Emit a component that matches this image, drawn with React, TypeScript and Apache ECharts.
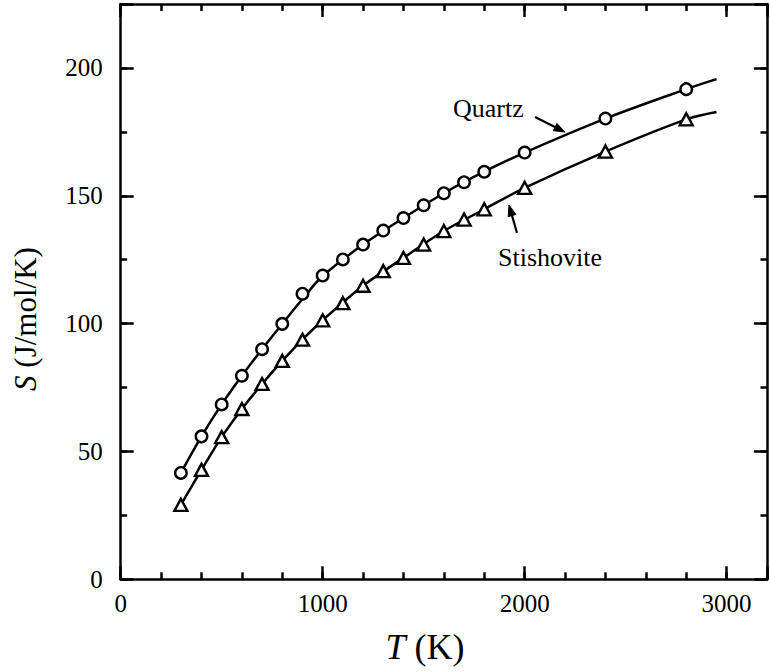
import React, { useEffect, useRef } from "react";
import * as echarts from "echarts";

// Data points (T in K, S in J/mol/K)
const T = [298, 400, 500, 600, 700, 800, 900, 1000, 1100, 1200, 1300, 1400, 1500, 1600, 1700, 1800, 2000, 2400, 2800];
const quartzS = [41.6, 55.9, 68.4, 79.6, 90.0, 99.9, 111.7, 118.8, 125.1, 130.9, 136.4, 141.3, 146.3, 151.0, 155.3, 159.4, 166.9, 180.2, 191.7];
const stishoviteS = [29.1, 42.8, 55.6, 66.6, 76.4, 85.4, 93.7, 101.3, 108.0, 114.8, 120.5, 125.7, 130.9, 136.2, 140.7, 144.7, 153.1, 167.3, 179.9];

// Fitted curves
const curveT = [298, 400, 500, 600, 700, 800, 900, 1000, 1200, 1400, 1600, 1800, 2000, 2400, 2800, 2950];
const quartzCurve = [41.6, 55.9, 68.4, 79.6, 90.0, 99.9, 109.6, 118.6, 130.9, 141.3, 151.0, 159.4, 166.9, 180.2, 191.7, 195.6];
const stishoviteCurve = [29.1, 42.8, 55.6, 66.6, 76.4, 85.4, 93.7, 101.3, 114.8, 125.7, 136.2, 144.7, 153.1, 167.3, 179.9, 182.8];

const xMajorTicks = [0, 1000, 2000, 3000];
const yMajorTicks = [0, 50, 100, 150, 200];

const FONT = "Liberation Serif";

export default function App() {
  const ref = useRef<HTMLDivElement>(null);

  useEffect(() => {
    if (!ref.current) return;
    const chart = echarts.init(ref.current, undefined, { renderer: "svg" });

    const line = { color: "#000", width: 2.5 };
    const xAxis = (position: string, interval: number, tickLen: number, labels: boolean, showLine: boolean) => ({
      type: "value",
      position,
      min: 0,
      max: 3200,
      interval,
      axisLine: { show: showLine, onZero: false, lineStyle: line },
      axisTick: { show: true, inside: true, length: tickLen, lineStyle: line },
      splitLine: { show: false },
      axisLabel: labels
        ? {
            show: true,
            margin: 12,
            color: "#000",
            fontSize: 25,
            fontFamily: FONT,
            formatter: (v: number) => (xMajorTicks.indexOf(v) >= 0 ? String(v) : ""),
          }
        : { show: false },
    });
    const yAxis = (position: string, interval: number, tickLen: number, labels: boolean, showLine: boolean) => ({
      type: "value",
      position,
      min: 0,
      max: 225,
      interval,
      axisLine: { show: showLine, onZero: false, lineStyle: line },
      axisTick: { show: true, inside: true, length: tickLen, lineStyle: line },
      splitLine: { show: false },
      axisLabel: labels
        ? {
            show: true,
            margin: 18,
            color: "#000",
            fontSize: 25,
            fontFamily: FONT,
            formatter: (v: number) => (yMajorTicks.indexOf(v) >= 0 ? String(v) : ""),
          }
        : { show: false },
    });

    const arrow = (tail: number[], tip: number[]) => {
      const dx = tip[0] - tail[0];
      const dy = tip[1] - tail[1];
      const len = Math.sqrt(dx * dx + dy * dy);
      const ux = dx / len;
      const uy = dy / len;
      const hl = 11;
      const hw = 4;
      const bx = tip[0] - ux * hl;
      const by = tip[1] - uy * hl;
      return [
        {
          type: "line",
          shape: { x1: tail[0], y1: tail[1], x2: bx + ux * 2, y2: by + uy * 2 },
          style: { stroke: "#000", lineWidth: 2.2 },
        },
        {
          type: "polygon",
          shape: {
            points: [
              [tip[0], tip[1]],
              [bx - uy * hw, by + ux * hw],
              [bx + uy * hw, by - ux * hw],
            ],
          },
          style: { fill: "#000", stroke: "#000", lineWidth: 1 },
        },
      ];
    };

    chart.setOption({
      animation: false,
      backgroundColor: "#fff",
      textStyle: { fontFamily: FONT },
      grid: { left: 120.7, right: -6.7, top: 4, bottom: 92.7, containLabel: false },
      xAxis: [
        xAxis("bottom", 1000, 13, true, true),
        xAxis("bottom", 200, 7, false, false),
        xAxis("top", 1000, 13, false, true),
        xAxis("top", 200, 7, false, false),
      ],
      yAxis: [
        yAxis("left", 50, 13, true, true),
        yAxis("left", 25, 6.5, false, false),
        yAxis("right", 50, 13, false, true),
        yAxis("right", 25, 6.5, false, false),
      ],
      series: [
        {
          type: "line",
          name: "Quartz fit",
          data: curveT.map((t, i) => [t, quartzCurve[i]]),
          symbol: "none",
          smooth: 0.35,
          lineStyle: { color: "#000", width: 2.5 },
          z: 2,
        },
        {
          type: "line",
          name: "Stishovite fit",
          data: curveT.map((t, i) => [t, stishoviteCurve[i]]),
          symbol: "none",
          smooth: 0.35,
          lineStyle: { color: "#000", width: 2.5 },
          z: 2,
        },
        {
          type: "scatter",
          name: "Quartz",
          data: T.map((t, i) => [t, quartzS[i]]),
          symbol: "circle",
          symbolSize: 11.5,
          itemStyle: { color: "#fff", borderColor: "#000", borderWidth: 2.4, opacity: 1 },
          z: 3,
        },
        {
          type: "scatter",
          name: "Stishovite",
          data: T.map((t, i) => [t, stishoviteS[i]]),
          symbol: "triangle",
          symbolSize: [13, 12],
          itemStyle: { color: "#fff", borderColor: "#000", borderWidth: 2.4, opacity: 1 },
          z: 3,
        },
      ],
      graphic: [
        {
          type: "text",
          x: 453,
          y: 108.7,
          style: { text: "Quartz", fontSize: 26, fontFamily: FONT, fill: "#000", align: "left", verticalAlign: "middle" },
        },
        {
          type: "text",
          x: 498,
          y: 257,
          style: { text: "Stishovite", fontSize: 26, fontFamily: FONT, fill: "#000", align: "left", verticalAlign: "middle" },
        },
        ...arrow([535, 117], [565, 132]),
        ...arrow([517, 233], [509, 205]),
        {
          type: "text",
          x: 425,
          y: 647,
          style: {
            text: "{i|T} (K)",
            fontSize: 36,
            fontFamily: FONT,
            fill: "#000",
            align: "center",
            verticalAlign: "middle",
            rich: { i: { fontStyle: "italic", fontSize: 36, fontFamily: FONT, fill: "#000" } },
          },
        },
        {
          type: "text",
          x: 25.5,
          y: 319,
          rotation: Math.PI / 2,
          style: {
            text: "{i|S} (J/mol/K)",
            fontSize: 31,
            fontFamily: FONT,
            fill: "#000",
            align: "center",
            verticalAlign: "middle",
            rich: { i: { fontStyle: "italic", fontSize: 31, fontFamily: FONT, fill: "#000" } },
          },
        },
      ],
    });

    return () => chart.dispose();
  }, []);

  return (
    <div
      ref={ref}
      style={{ position: "fixed", left: 0, top: 0, width: 770, height: 672, background: "#fff" }}
    />
  );
}
